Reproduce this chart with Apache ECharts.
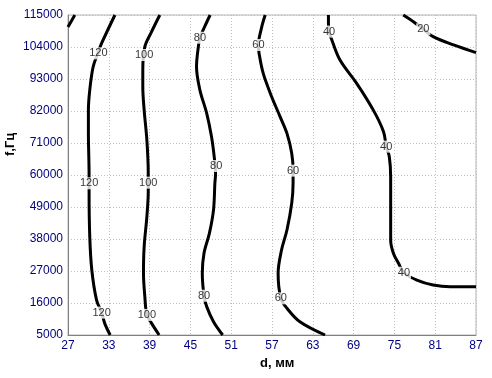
<!DOCTYPE html>
<html>
<head>
<meta charset="utf-8">
<script src="https://cdn.jsdelivr.net/npm/echarts@6/dist/echarts.min.js"></script>
<style>html,body{margin:0;padding:0;background:#fff}#c{width:492px;height:378px}</style>
</head>
<body>
<div id="c"></div>
<script>
// axis ticks
const xTicks = [27, 33, 39, 45, 51, 57, 63, 69, 75, 81, 87];
const yTicks = [5000, 16000, 27000, 38000, 49000, 60000, 71000, 82000, 93000, 104000, 115000];

// contour lines: [d, f]
const line140 = [[27.0, 110900], [28.0, 115000]];
const line120 = [[33.9, 115000], [31.95, 105300], [31.4, 101900], [30.7, 97200], [30.2, 89200], [30.0, 82300], [30.0, 74400], [30.1, 60000], [30.1, 54300], [30.2, 38800], [30.5, 27350], [31.2, 17000], [31.95, 12700], [32.4, 9000], [33.2, 5000]];
const line100 = [[40.5, 115000], [39.3, 109300], [38.3, 104100], [38.0, 96100], [38.0, 90400], [38.2, 82300], [38.6, 72000], [38.8, 60600], [38.8, 54300], [38.6, 45700], [38.2, 35350], [38.1, 26200], [38.3, 18200], [38.6, 11900], [39.3, 9000], [40.4, 5000]];
const line80 = [[47.9, 115000], [47.1, 111000], [46.4, 107200], [46.2, 104700], [45.9, 97200], [46.4, 89200], [47.4, 81200], [48.1, 73200], [48.5, 66300], [48.7, 60600], [48.6, 57150], [48.4, 48000], [47.8, 40000], [47.0, 33100], [46.75, 26200], [47.0, 18500], [47.4, 14750], [48.4, 9560], [49.75, 5000]];
const line60 = [[56.0, 115000], [55.5, 111000], [55.0, 104700], [55.1, 101800], [55.7, 95000], [56.95, 86900], [58.2, 80000], [59.2, 74300], [59.9, 67450], [60.1, 61500], [60.1, 57150], [59.9, 50300], [59.2, 41100], [58.4, 34200], [57.9, 26200], [58.3, 17600], [59.2, 14200], [61.1, 9560], [64.8, 5000]];
const line40 = [[65.3, 115000], [65.3, 112150], [65.4, 109300], [65.8, 106400], [67.0, 99500], [69.45, 91500], [71.9, 82300], [73.4, 74900], [73.8, 69750], [74.25, 66300], [74.45, 59400], [74.45, 46800], [74.45, 37650], [74.85, 33100], [75.6, 29650], [76.4, 26400], [78.3, 23900], [80.7, 22200], [83.2, 21600], [87.0, 21600]];
const line20 = [[76.3, 115000], [77.8, 112700], [79.25, 110100], [80.7, 107550], [83.7, 104700], [87.0, 102050]];

// contour labels: [d, f, text]
const contourLabels = [
  [31.46, 101830, '120'], [30.1, 57150, '120'], [31.95, 12700, '120'],
  [38.2, 101250, '100'], [38.8, 57360, '100'], [38.6, 11900, '100'],
  [46.4, 107200, '80'], [48.8, 63100, '80'], [47.0, 18500, '80'],
  [55.0, 104700, '60'], [60.1, 61500, '60'], [58.3, 17600, '60'],
  [65.4, 109300, '40'], [73.8, 69750, '40'], [76.4, 26400, '40'],
  [79.25, 110100, '20']
];

const X0 = xTicks[0], Y0 = yTicks[0];
const sh = arr => arr.map(p => [p[0] - X0, p[1] - Y0]);

const lines = [line140, line120, line100, line80, line60, line40, line20];
const series = lines.map(l => ({
  type: 'line', data: sh(l), smooth: 0.35, showSymbol: false, symbol: 'none',
  lineStyle: { color: '#000', width: 3 }, z: 2, silent: true, clip: true
}));
series.push({
  type: 'scatter', symbolSize: 0, z: 5, silent: true,
  data: contourLabels.map(p => ({ value: [p[0] - X0, p[1] - Y0], txt: p[2] })),
  label: {
    show: true, position: 'inside', formatter: p => p.data.txt,
    color: '#000', fontSize: 11, fontFamily: 'Liberation Sans, Arial, sans-serif',
    backgroundColor: '#fff', padding: [1, 1, 0, 1]
  }
});

const chart = echarts.init(document.getElementById('c'), null, { renderer: 'canvas' });
chart.setOption({
  animation: false,
  backgroundColor: '#fff',
  grid: { left: 68, right: 16, top: 15, bottom: 43, show: true, borderColor: '#b4b4b4', borderWidth: 1, backgroundColor: 'transparent' },
  xAxis: {
    type: 'value', min: 0, max: xTicks[xTicks.length - 1] - X0, interval: xTicks[1] - xTicks[0],
    axisLine: { show: true, lineStyle: { color: '#808080', width: 1 } },
    axisTick: { show: false },
    axisLabel: { formatter: v => String(v + X0), color: '#000080', fontSize: 12, fontFamily: 'Liberation Sans, Arial, sans-serif', margin: 5 },
    splitLine: { show: true, lineStyle: { color: '#c0c0c0', type: [1, 2], width: 1 } }
  },
  yAxis: {
    type: 'value', min: 0, max: yTicks[yTicks.length - 1] - Y0, interval: yTicks[1] - yTicks[0],
    axisLine: { show: true, lineStyle: { color: '#808080', width: 1 } },
    axisTick: { show: false },
    axisLabel: { formatter: v => String(v + Y0), color: '#000080', fontSize: 12, fontFamily: 'Liberation Sans, Arial, sans-serif', margin: 5 },
    splitLine: { show: true, lineStyle: { color: '#c0c0c0', type: [1, 2], width: 1 } }
  },
  graphic: [
    { type: 'text', left: 260, top: 357, style: { text: 'd, мм', fill: '#000', font: 'bold 13px Liberation Sans, Arial, sans-serif' } },
    { type: 'text', x: 4, y: 156, rotation: Math.PI / 2, style: { text: 'f,Гц', fill: '#000', font: 'bold 13px Liberation Sans, Arial, sans-serif' } }
  ],
  series: series
});
</script>
</body>
</html>
